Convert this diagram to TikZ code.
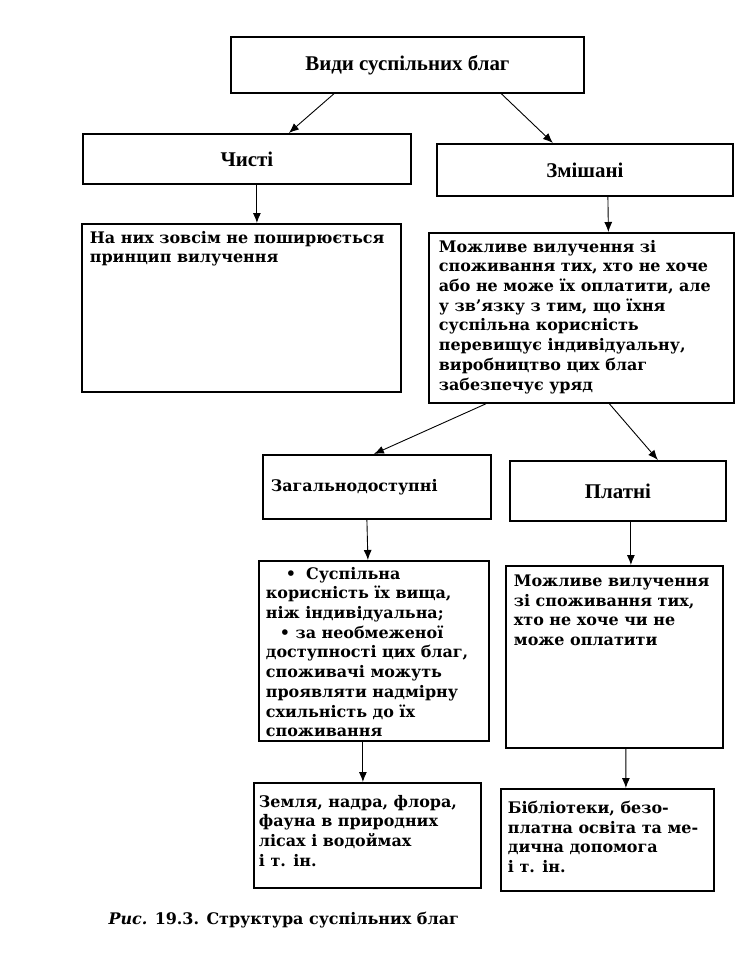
\documentclass[tikz,border=0pt]{standalone}
\usepackage{fontspec}
\setmainfont{DejaVu Serif}
\newfontfamily\headfont{Liberation Serif}
\usetikzlibrary{arrows.meta}
\newcommand{\boxtext}[3]{\parbox[c][#2][t]{#1}{\raggedright #3}}

\begin{document}
\begin{tikzpicture}[>={Latex[length=10bp,width=8bp]}, every node/.style=,
  block/.style={draw, line width=1.8pt, rectangle, anchor=north west, inner sep=0pt,
    font=\bfseries\fontsize{16}{19.8}\selectfont},
  headblock/.style={block, font=\headfont\bfseries\fontsize{21}{24}\selectfont},
  link/.style={line width=0.9pt, ->}]
  \useasboundingbox (0bp, 0bp) rectangle (747bp, -977bp);
  % States
  \node (kinds) at (230bp, -36bp) [headblock, minimum width=353bp, minimum height=56bp] {Види суспільних благ};

  \node (pure) at (82bp, -133bp) [headblock, minimum width=328bp, minimum height=50bp] {Чисті};
  \node (mixed) at (436bp, -143bp) [headblock, minimum width=296bp, minimum height=52bp] {Змішані};

  \node (pureText) at (81bp, -223bp) [block, minimum width=319bp, minimum height=168bp]
    {\boxtext{303bp}{154bp}{На них зовсім не поширюється\\ принцип вилучення}};
  \node (mixedText) at (428bp, -232bp) [block, minimum width=305bp, minimum height=170bp]
    {\boxtext{285bp}{156bp}{Можливе вилучення зі\\ споживання тих, хто не хоче\\ або не може їх оплатити, але\\ у зв'язку з тим, що їхня\\ суспільна корисність\\ перевищує індивідуальну,\\ виробництво цих благ\\ забезпечує уряд}};

  \node (public) at (262bp, -454bp) [block, minimum width=228bp, minimum height=64bp]
    {\parbox{212bp}{Загальнодоступні}};
  \node (paid) at (509bp, -460bp) [headblock, minimum width=216bp, minimum height=60bp] {Платні};

  \node (publicText) at (258bp, -560bp) [block, minimum width=230bp, minimum height=180bp]
    {\boxtext{216bp}{168bp}{\hspace*{20bp}•\hspace{10bp}Суспільна\\ корисність їх вища,\\ ніж індивідуальна;\\ \hspace*{14bp}• за необмеженої\\ доступності цих благ,\\ споживачі можуть\\ проявляти надмірну\\ схильність до їх\\ споживання}};
  \node (paidText) at (505bp, -565bp) [block, minimum width=217bp, minimum height=182bp]
    {\boxtext{201bp}{164bp}{Можливе вилучення\\ зі споживання тих,\\ хто не хоче чи не\\ може оплатити}};

  \node (land) at (253bp, -782bp) [block, minimum width=227bp, minimum height=105bp]
    {\boxtext{217bp}{81bp}{Земля, надра, флора,\\ фауна в природних\\ лісах і водоймах\\ і т. ін.}};
  \node (libs) at (500bp, -788bp) [block, minimum width=213bp, minimum height=102bp]
    {\boxtext{199bp}{78bp}{Бібліотеки, безо-\\ платна освіта та ме-\\ дична допомога\\ і т. ін.}};

  \node (caption) at (105bp, -920bp) [anchor=west, font=\bfseries\fontsize{16}{19.5}\selectfont]
    {\textit{Рис.} 19.3. Структура суспільних благ};

  % Edges
  \draw[link] ([xshift=-73.5bp]kinds.south) to ([xshift=42bp]pure.north);
  \draw[link] ([xshift=94bp]kinds.south) to ([xshift=-32bp]mixed.north);

  \draw[link] ([xshift=10bp]pure.south) to ([xshift=15.5bp]pureText.north);
  \draw[link] ([xshift=23bp]mixed.south) to ([xshift=27bp]mixedText.north);

  \draw[link] ([xshift=-95.5bp]mixedText.south) to ([xshift=-3bp]public.north);
  \draw[link] ([xshift=28bp]mixedText.south) to ([xshift=40bp]paid.north);

  \draw[link] ([xshift=-10bp]public.south) to ([xshift=-6bp]publicText.north);
  \draw[link] ([xshift=13bp]paid.south) to ([xshift=16.5bp]paidText.north);

  \draw[link] ([xshift=-11bp]publicText.south) to ([xshift=-4.5bp]land.north);
  \draw[link] ([xshift=11.5bp]paidText.south) to ([xshift=18.5bp]libs.north);
\end{tikzpicture}
\end{document}
